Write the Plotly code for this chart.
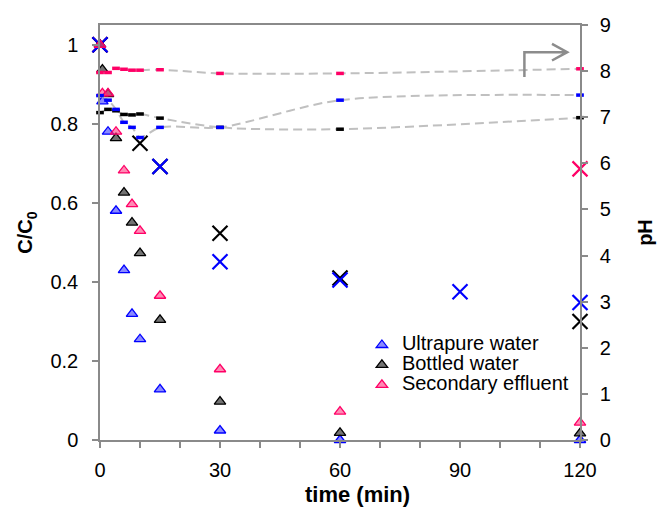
import plotly.graph_objects as go

# ---------------- data ----------------
t_tri = [0, 0.6, 2, 4, 6, 8, 10, 15, 30, 60, 120]
cc0_ultrapure = [1.0, 0.857, 0.78, 0.58, 0.43, 0.319, 0.255, 0.128, 0.024, 0.0, 0.0]
cc0_bottled = [1.0, 0.937, 0.875, 0.764, 0.626, 0.55, 0.473, 0.304, 0.097, 0.018, 0.017]
cc0_secondary = [1.0, 0.877, 0.877, 0.78, 0.682, 0.597, 0.529, 0.365, 0.179, 0.072, 0.044]

t_x_ultrapure = [0, 15, 30, 60, 90, 120]
x_ultrapure = [1.0, 0.692, 0.451, 0.405, 0.375, 0.348]
t_x_bottled = [0, 10, 15, 30, 60, 120]
x_bottled = [1.0, 0.751, 0.692, 0.523, 0.41, 0.30]
t_x_secondary = [0, 120]
x_secondary = [1.0, 0.686]

t_ph = [0, 2, 4, 6, 8, 10, 15, 30, 60, 120]
ph_ultrapure = [7.47, 7.37, 7.17, 6.89, 6.78, 6.56, 6.78, 6.78, 7.37, 7.48]
ph_bottled = [7.10, 7.17, 7.14, 7.06, 7.05, 7.07, 6.98, 6.78, 6.74, 6.99]
ph_secondary = [7.97, 7.97, 8.06, 8.04, 8.02, 8.02, 8.03, 7.95, 7.95, 8.05]

names = ["Ultrapure water", "Bottled water", "Secondary effluent"]
x_ticks = [0, 30, 60, 90, 120]
y_ticks = [0, 0.2, 0.4, 0.6, 0.8, 1.0]
y_ticktext = ["0", "0.2", "0.4", "0.6", "0.8", "1"]
y2_ticks = list(range(0, 10))

# ---------------- styles ----------------
line_col = ["#0000FF", "#000000", "#FF0066"]
fill_col = ["rgba(60,60,255,0.6)", "rgba(40,40,40,0.65)", "rgba(255,60,130,0.6)"]
FONT = "Arial, 'Liberation Sans', sans-serif"
AXC = "#8a8a8a"

fig = go.Figure()

# pH series (secondary axis): grey dashed smooth lines + coloured dash markers
for ph in [ph_secondary, ph_bottled, ph_ultrapure]:
    fig.add_trace(go.Scatter(
        x=t_ph, y=ph, yaxis="y2", mode="lines", showlegend=False,
        line=dict(color="#c0c0c0", width=2, dash="9px,5px", shape="spline", smoothing=0.8),
        hoverinfo="skip", cliponaxis=False))
for ph, c in zip([ph_secondary, ph_bottled, ph_ultrapure], [line_col[2], line_col[1], line_col[0]]):
    fig.add_trace(go.Scatter(
        x=t_ph, y=ph, yaxis="y2", mode="markers", showlegend=False,
        marker=dict(symbol="line-ew", size=5.5, line=dict(color=c, width=3.5)),
        cliponaxis=False))

# X markers
for tx, xv, c in [(t_x_secondary, x_secondary, line_col[2]),
                  (t_x_bottled, x_bottled, line_col[1]),
                  (t_x_ultrapure, x_ultrapure, line_col[0])]:
    fig.add_trace(go.Scatter(
        x=tx, y=xv, mode="markers", showlegend=False,
        marker=dict(symbol="x-thin", size=15, line=dict(color=c, width=2.2)),
        cliponaxis=False))

# Triangles (legend)
for yv, n, lc, fc in zip([cc0_ultrapure, cc0_bottled, cc0_secondary], names, line_col, fill_col):
    fig.add_trace(go.Scatter(
        x=t_tri, y=yv, mode="markers", name="<span style='font-size:20px'>" + n + "</span>",
        marker=dict(symbol="triangle-up", size=10, color=fc, line=dict(color=lc, width=1.3)),
        cliponaxis=False))

# arrow pointing to the pH axis
fig.add_shape(type="path", xref="x", yref="y2",
              path="M106.1,7.87 L106.1,8.41 L116.8,8.41 M113,8.59 L116.8,8.41 L113,8.23",
              line=dict(color="#8c8c8c", width=2.5))

fig.update_layout(
    width=665, height=512,
    margin=dict(l=100, r=83, t=25, b=72),
    paper_bgcolor="white", plot_bgcolor="white",
    font=dict(family=FONT, size=20, color="black"),
    showlegend=True,
    legend=dict(x=(363 - 100) / 482, xanchor="left", y=0.265, yanchor="top",
                font=dict(size=13, family=FONT, color="black"),
                itemwidth=30, bgcolor="rgba(0,0,0,0)", tracegroupgap=0),
    xaxis=dict(range=[0, 120], tickvals=x_ticks, ticks="outside", ticklen=6, tickwidth=1.5,
               tickcolor=AXC, showline=True, linecolor=AXC, linewidth=1.5, mirror=True,
               showgrid=False, zeroline=False,
               minor=dict(dtick=10, ticks="outside", ticklen=6, tickwidth=1.5, tickcolor=AXC),
               tickfont=dict(size=20), ticklabelstandoff=5),
    yaxis=dict(range=[0, 1.05], tickvals=y_ticks, ticktext=y_ticktext, ticks="outside",
               ticklen=6, tickwidth=1.5, tickcolor=AXC, showline=True, linecolor=AXC,
               linewidth=1.5, showgrid=False, zeroline=False, tickfont=dict(size=20),
               ticklabelstandoff=10,
               title=dict(text="<b>C/C<sub>0</sub></b>", standoff=12,
                          font=dict(size=20, family=FONT))),
    yaxis2=dict(range=[0, 9], tickvals=y2_ticks, overlaying="y", side="right", ticks="outside",
                ticklen=6, tickwidth=1.5, tickcolor=AXC, showline=True, linecolor=AXC,
                linewidth=1.5, showgrid=False, zeroline=False, tickfont=dict(size=20),
                ticklabelstandoff=8,
                title=dict(text="<b>pH</b>", standoff=28, font=dict(size=20, family=FONT))),
    annotations=[
        dict(text="<b>time (min)</b>", xref="paper", yref="paper",
             x=(359 - 100) / 482, y=-(494 - 440) / 415, xanchor="center", yanchor="middle",
             showarrow=False, font=dict(size=22, family=FONT)),
    ],
)

fig.write_html("out.html")
